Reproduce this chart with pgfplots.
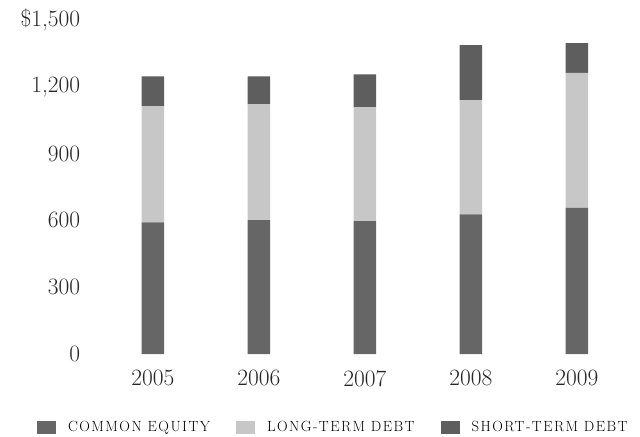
\documentclass[border=0pt]{standalone}
\usepackage{fontspec}
\setmainfont{Latin Modern Roman}
\newfontfamily\legfont[LetterSpace=10]{Latin Modern Roman}
\usepackage{pgfplots}
\pgfplotsset{compat=1.18}
\definecolor{ce}{gray}{0.40}
\definecolor{ltd}{gray}{0.78}
\definecolor{std}{gray}{0.37}
\begin{document}
\begin{tikzpicture}
\begin{axis}[
  scale only axis,
  width=551bp, height=334bp,
  ybar stacked, bar width=22.5bp,
  xmin=-0.6, xmax=4.6, ymin=0, ymax=1500,
  xtick={0,1,2,3,4}, xticklabels={2005,2006,2007,2008,2009},
  ytick={0,300,600,900,1200,1500},
  yticklabels={0,300,600,900,{1,200},{\$1,500}},
  axis line style={draw=none},
  major tick length=0pt,
  tick style={draw=none},
  ticklabel style={font=\fontsize{23.5}{26}\selectfont, color=black!85},
  yticklabel style={anchor=east, inner sep=0pt, xshift=-9bp},
  xticklabel style={anchor=north, inner sep=0pt, yshift=-16bp},
  legend style={draw=none, fill=none, at={(-0.095,-0.219)}, anchor=west,
    legend columns=3, inner sep=0pt, outer sep=0pt,
    font=\legfont\fontsize{14.8}{17}\selectfont,
    nodes={inner sep=0pt},
    /tikz/every odd column/.append style={column sep=12bp},
    /tikz/every even column/.append style={column sep=26bp}},
  legend image code/.code={\fill[#1,draw=none] (0bp,-6.5bp) rectangle (19bp,6.5bp);},
]
\addplot[fill=ce, draw=none] coordinates {(0,591) (1,601) (2,597) (3,627) (4,656)};
\addplot[fill=ltd, draw=none] coordinates {(0,521) (1,520) (2,511) (3,513) (4,606)};
\addplot[fill=std, draw=none] coordinates {(0,135) (1,126) (2,148) (3,247) (4,134)};
\legend{COMMON EQUITY, LONG-TERM DEBT, SHORT-TERM DEBT}
\end{axis}
\pgfresetboundingbox
\path (-89.4bp,-83bp) rectangle (550.6bp,354bp);
\end{tikzpicture}
\end{document}
